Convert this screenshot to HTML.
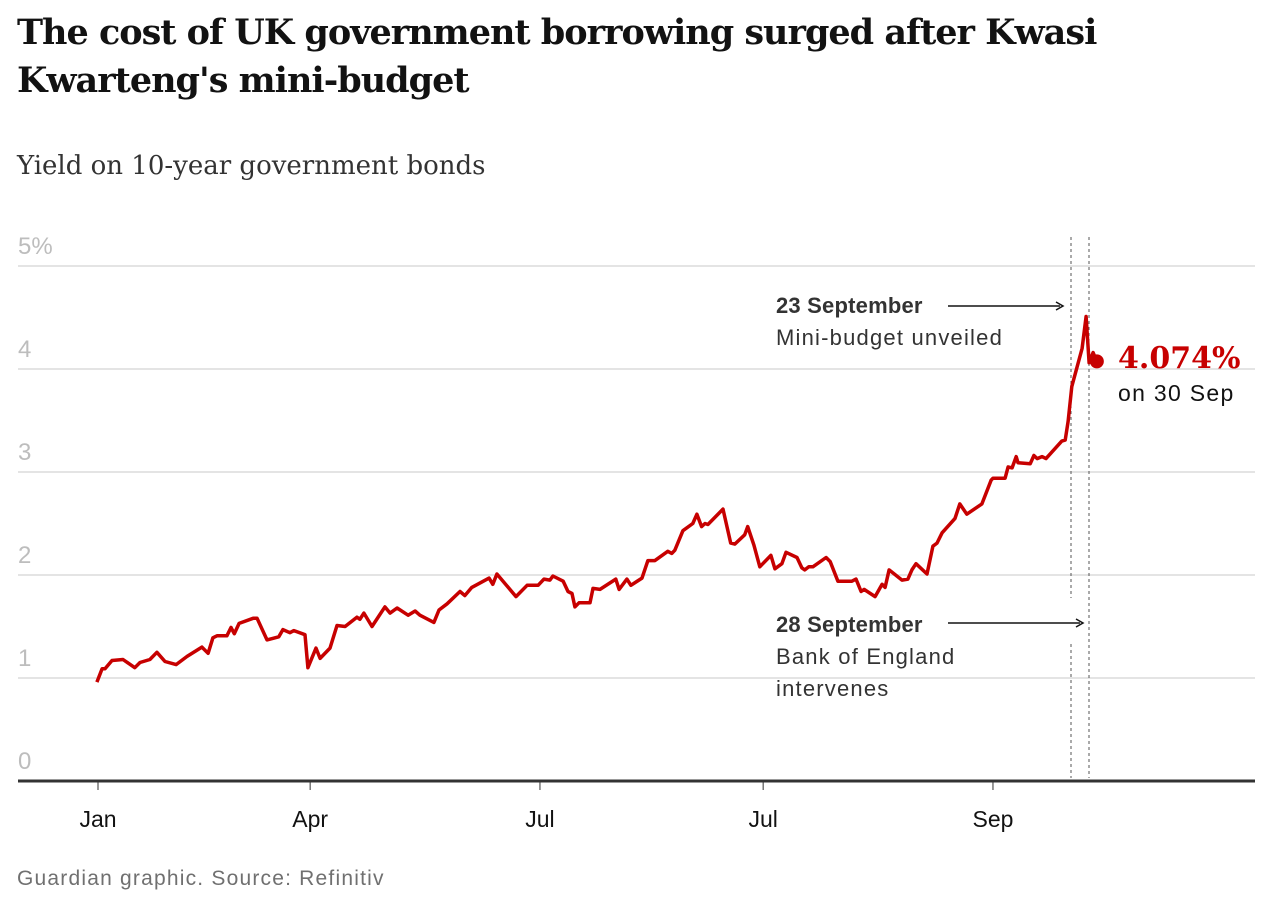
<!DOCTYPE html>
<html><head><meta charset="utf-8"><style>
body{margin:0;background:#fff;width:1262px;height:902px;overflow:hidden}
svg{display:block}
.t{font-family:"DejaVu Serif","Liberation Serif",serif;font-weight:bold;fill:#121212}
.s{font-family:"Liberation Sans",sans-serif}
</style></head><body>
<svg id="c" width="1262" height="902">
<text class="t" x="17" y="44" font-size="35" letter-spacing="-1">The cost of UK government borrowing surged after Kwasi</text>
<text class="t" x="17" y="92" font-size="35" letter-spacing="-1">Kwarteng's mini-budget</text>
<text x="17" y="174" font-family="DejaVu Serif,Liberation Serif,serif" font-size="26" fill="#333">Yield on 10-year government bonds</text>
<g id="grid"></g><g id="xt"></g>
<g>
<line x1="1071" y1="237" x2="1071" y2="598" stroke="#555" stroke-dasharray="3,3"/>
<line x1="1071" y1="644" x2="1071" y2="778" stroke="#555" stroke-dasharray="3,3"/>
<line x1="1089" y1="237" x2="1089" y2="778" stroke="#555" stroke-dasharray="3,3"/>
<text class="s" x="776" y="313" font-size="22" font-weight="bold" fill="#333" letter-spacing="0.2">23 September</text>
<text class="s" x="776" y="345" font-size="22" fill="#333" letter-spacing="1.2">Mini-budget unveiled</text>
<line x1="948" y1="306" x2="1060" y2="306" stroke="#121212" stroke-width="1.5"/>
<path d="M1056,302 L1063,306 L1056,310" fill="none" stroke="#121212" stroke-width="1.5"/>
<text class="s" x="776" y="632" font-size="22" font-weight="bold" fill="#333" letter-spacing="0.2">28 September</text>
<text class="s" x="776" y="664" font-size="22" fill="#333" letter-spacing="1.2">Bank of England</text>
<text class="s" x="776" y="696" font-size="22" fill="#333" letter-spacing="1.2">intervenes</text>
<line x1="948" y1="623" x2="1080" y2="623" stroke="#121212" stroke-width="1.5"/>
<path d="M1076,619 L1083,623 L1076,627" fill="none" stroke="#121212" stroke-width="1.5"/>
</g>
<g id="series"></g>
<text x="1118" y="368" font-family="DejaVu Serif,Liberation Serif,serif" font-weight="bold" font-size="30" fill="#c70000">4.074%</text>
<text class="s" x="1118" y="401" font-size="23" fill="#121212" letter-spacing="1.3">on 30 Sep</text>
<text class="s" x="17" y="885" font-size="21" fill="#707070" letter-spacing="1.2">Guardian graphic. Source: Refinitiv</text>
</svg>
<script>
const days=[-0.3,1.1,1.9,3.8,6.8,10.0,11.4,14.1,16.0,18.2,21.2,24.2,28.2,29.9,31.2,32.3,35.0,36.1,37.0,38.3,42.1,43.2,45.9,49.1,50.2,52.1,53.2,56.2,57.0,59.2,60.3,63.0,64.9,67.1,70.3,71.1,72.2,74.4,77.9,79.3,81.2,84.2,86.1,87.4,91.2,92.6,94.8,98.3,99.6,101.5,106.2,107.2,108.3,113.5,116.5,119.5,121.1,122.7,123.5,126.3,127.6,128.7,129.5,130.6,133.6,134.4,136.3,140.6,141.5,143.6,144.7,147.7,149.3,151.2,154.7,155.8,156.6,158.8,161.5,162.6,163.9,164.8,165.6,169.7,171.8,172.9,175.6,176.4,178.1,179.7,182.7,183.8,185.7,186.8,189.8,191.1,191.9,193.0,194.1,197.7,198.8,200.9,204.7,205.8,207.2,208.0,211.0,212.9,213.7,214.8,218.3,219.9,221.0,222.1,225.1,226.7,227.8,229.2,232.7,234.0,235.9,240.0,242.5,243.0,246.3,247.1,248.2,249.3,249.8,253.1,254.1,255.0,256.3,257.4,261.7,262.6,263.4,264.4,267.2,268.3,269.1,270.2,271.2];
const yields=[0.96,1.09,1.09,1.17,1.18,1.10,1.15,1.18,1.25,1.16,1.13,1.21,1.30,1.24,1.39,1.41,1.41,1.49,1.43,1.53,1.58,1.58,1.37,1.40,1.47,1.44,1.46,1.42,1.10,1.29,1.19,1.29,1.51,1.50,1.59,1.57,1.63,1.50,1.69,1.63,1.68,1.61,1.65,1.61,1.54,1.66,1.72,1.84,1.80,1.88,1.97,1.91,2.01,1.79,1.90,1.90,1.96,1.95,1.99,1.94,1.84,1.82,1.69,1.73,1.73,1.87,1.86,1.96,1.86,1.96,1.90,1.97,2.14,2.14,2.23,2.21,2.24,2.43,2.50,2.59,2.47,2.50,2.49,2.64,2.31,2.30,2.39,2.47,2.29,2.08,2.19,2.06,2.11,2.22,2.17,2.07,2.05,2.08,2.08,2.17,2.13,1.94,1.94,1.96,1.84,1.86,1.79,1.91,1.88,2.05,1.95,1.96,2.05,2.11,2.01,2.28,2.31,2.41,2.55,2.69,2.59,2.69,2.92,2.94,2.94,3.05,3.04,3.15,3.09,3.08,3.16,3.13,3.15,3.13,3.30,3.31,3.49,3.83,4.20,4.51,4.06,4.16,4.074];
const yTicks=[0,1,2,3,4,5];
const yTickLabels=["0","1","2","3","4","5%"];
const xTickDays=[0,57.6,120.0,180.6,243.0];
const xTickLabels=["Jan","Apr","Jul","Jul","Sep"];
const NS="http://www.w3.org/2000/svg";
const xs=d=>98+d*3.683;
const ys=v=>781-v*103;
function mk(tag,attrs,parent){const e=document.createElementNS(NS,tag);for(const k in attrs)e.setAttribute(k,attrs[k]);parent.appendChild(e);return e;}
const grid=document.getElementById('grid');
yTicks.forEach((v,i)=>{
  if(v>0){const l=mk('line',{x1:18,x2:1255,y1:ys(v),y2:ys(v),stroke:'#dcdcdc','stroke-width':1.5},grid);
  
  }
  const t=mk('text',{x:18,y:ys(v)-12,'font-size':24,fill:'#bdbdbd','font-family':'Liberation Sans, sans-serif'},grid);
  t.textContent=yTickLabels[i];
  
  
});
const ax=mk('line',{x1:18,x2:1255,y1:781,y2:781,stroke:'#333','stroke-width':3},grid);


const xt=document.getElementById('xt');
xTickDays.forEach((d,i)=>{
  const tk=mk('line',{x1:xs(d),x2:xs(d),y1:782,y2:790,stroke:'#333','stroke-width':1},xt);
  
  
  const t=mk('text',{x:xs(d),y:827,'font-size':23,fill:'#121212','text-anchor':'middle','font-family':'Liberation Sans, sans-serif'},xt);
  t.textContent=xTickLabels[i];
  
  
});
const sg=document.getElementById('series');
const p=mk('polyline',{points:days.map((d,i)=>xs(d).toFixed(1)+','+ys(yields[i]).toFixed(1)).join(' '),fill:'none',stroke:'#c70000','stroke-width':3.5,'stroke-linejoin':'round'},sg);


const n=days.length-1;
const dot=mk('circle',{cx:xs(days[n]),cy:ys(yields[n]),r:7,fill:'#c70000'},sg);


</script>
</body></html>
